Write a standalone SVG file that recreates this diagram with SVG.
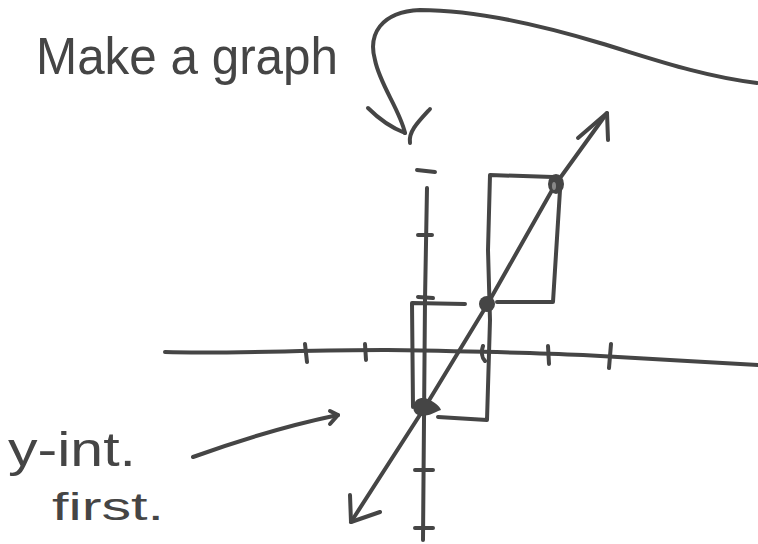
<svg xmlns="http://www.w3.org/2000/svg" width="758" height="544" viewBox="0 0 758 544">
<style>
.s{fill:none;stroke:#454545;stroke-width:4;stroke-linecap:round;stroke-linejoin:round}
.t{fill:#454545;font-family:"Liberation Sans","DejaVu Sans",sans-serif}
.d{fill:#454545}
</style>
<rect width="758" height="544" fill="#ffffff"/>
<g id="title"><text class="t" x="36" y="74" font-size="52" textLength="302" lengthAdjust="spacingAndGlyphs">Make a graph</text></g>
<g id="note"><text class="t" x="8" y="466" font-size="48" textLength="128" lengthAdjust="spacingAndGlyphs">y-int.</text>
<text class="t" x="52" y="520" font-size="38" textLength="112" lengthAdjust="spacingAndGlyphs">first.</text></g>
<g id="connectors">
<path class="s" d="M757,83 C700,76 650,58 600,43 C550,28 480,10 420,10 C380,12 368,35 375,60 C380,85 400,110 405,133"/>
<path class="s" d="M368,108 C380,120 392,128 405,133"/>
<path class="s" d="M430,109 C418,122 408,132 410,143"/>
<path class="s" d="M193,457 C240,440 290,425 338,415"/>
<path class="s" d="M330,411 L338,415 L330,424"/>
</g>
<g id="axes">
<path class="s" d="M165,352 C230,354 300,350 383,350 C450,351 520,352 583,355 C640,358 700,362 758,365"/>
<path class="s" d="M427,188 L425,300 L424,420 L423,540"/>
<path class="s" d="M417,170 L435,172"/>
<path class="s" d="M418,235 L432,235 M418,297 L433,298 M415,470 L433,470 M415,528 L433,528"/>
<path class="s" d="M305,344 L307,362 M365,344 L366,360 M483,346 C481,352 482,358 485,361 M548,346 L549,364 M611,344 L609,368"/>
</g>
<g id="boxes">
<path class="s" d="M465,304 L412,303 L413,407"/>
<path class="s" d="M438,417 L487,420 L490,320 L488,250 L490,175 L553,177"/>
<path class="s" d="M497,302 L553,302 L560,190"/>
</g>
<g id="line">
<path class="s" d="M607,113 L555,185 L487,305 L425,407 L351,522"/>
<path class="s" d="M578,138 L607,113 L608,140"/>
<path class="s" d="M350,495 L351,522 L380,512"/>
<ellipse class="d" cx="556" cy="184" rx="8" ry="10"/>
<ellipse cx="554" cy="186" rx="2" ry="4" fill="#888"/>
<circle class="d" cx="487" cy="304" r="8"/>
<path class="d" d="M414,405 C415,398 423,396 430,400 C436,403 440,407 441,410 C435,412 430,416 421,416 C415,415 412,410 414,405 Z"/>
</g>
</svg>
